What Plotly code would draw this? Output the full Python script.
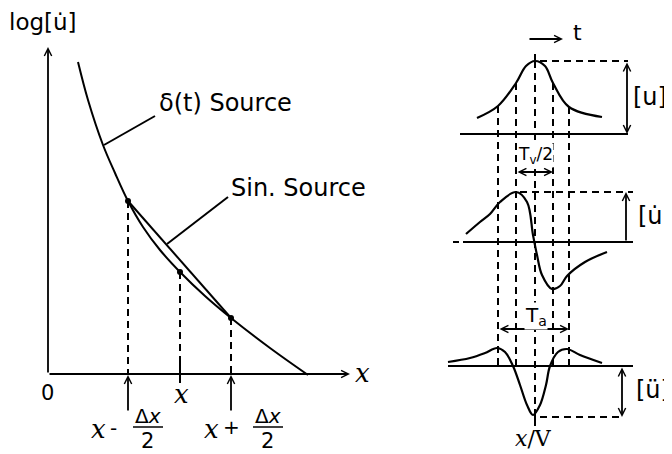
import plotly.graph_objects as go

# Diagram is laid out in the picture's own units (672 x 454, y pointing down)

# ---- left panel: log[u-dot] against distance ----
delta_x = [78, 88, 103, 115, 128, 143, 160, 180, 205, 231, 270, 308]
delta_y = [62, 100, 145, 173, 201, 227, 250, 272, 296, 318, 348, 375]
sin_x = [128, 231]
sin_y = [201, 318]
dot_x = [128, 180, 231]
dot_y = [201, 272, 318]
axis_x = [48, 350]      # x axis runs from origin to arrow tip
axis_y = [374, 47]      # y axis runs from origin up to arrow tip
delta_ptr_x = [104, 155]
delta_ptr_y = [145, 116]
sin_ptr_x = [167, 228]
sin_ptr_y = [244, 197]

# ---- right panel: u, u-dot, u-double-dot against t ----
u_t = [477, 498, 516, 526, 535, 545, 553, 569, 602]
u_v = [118, 106, 83, 66, 61, 66, 83, 107, 117]
ud_t = [466, 480, 490, 500, 516, 527, 533, 537, 542, 552, 560, 567, 585, 607]
ud_v = [234, 222, 214, 202, 192, 202, 235, 255, 275, 289, 286, 276, 262, 252]
udd_t = [448, 470, 485, 497, 505, 513, 520, 527, 533, 540, 546, 550, 558, 567, 580, 602]
udd_v = [362, 358, 353, 348, 352, 366, 385, 405, 415, 405, 385, 366, 352, 349, 355, 363]
base_y = [134, 242, 366]
col_t = [498, 516, 535, 553, 569]          # dashed guide columns
col_top = [106, 83, 61, 83, 107]
col_bot = [366, 366, 415, 366, 366]

fig = go.Figure()


def line(xs, ys, dash="solid", width=2, shape="linear"):
    fig.add_trace(go.Scatter(x=xs, y=ys, mode="lines", line_shape=shape,
                             line=dict(color="black", width=width, dash=dash),
                             hoverinfo="skip", showlegend=False))


def arrow(x0, y0, x1, y1, both=False):
    fig.add_annotation(x=x1, y=y1, ax=x0, ay=y0, xref="x", yref="y",
                       axref="x", ayref="y", text="", showarrow=True,
                       arrowhead=5, arrowsize=0.8, arrowwidth=1.8,
                       startarrowhead=5, startarrowsize=0.8,
                       arrowside="end+start" if both else "end",
                       arrowcolor="black")


def label(x, y, text, size=20, anchor="center", family="DejaVu Sans", bg=None):
    fig.add_annotation(x=x, y=y, text=text, showarrow=False, xanchor=anchor,
                       yanchor="middle", bgcolor=bg, borderpad=0,
                       font=dict(family=family, size=size, color="black"))


DASH = "7px,5px"

# left panel
arrow(axis_x[0], axis_y[0], axis_x[1], axis_y[0])
arrow(axis_x[0], axis_y[0], axis_x[0], axis_y[1])
line(delta_x, delta_y, shape="spline")
line(sin_x, sin_y)
line(delta_ptr_x, delta_ptr_y)
line(sin_ptr_x, sin_ptr_y)
line([dot_x[0], dot_x[0]], [dot_y[0], axis_y[0]], dash=DASH)
line([dot_x[1], dot_x[1]], [dot_y[1], 357], dash=DASH)
line([dot_x[1], dot_x[1]], [357, 383])
line([dot_x[2], dot_x[2]], [dot_y[2], axis_y[0]], dash=DASH)
arrow(dot_x[0], 412, dot_x[0], axis_y[0] + 1)
arrow(dot_x[2], 412, dot_x[2], axis_y[0] + 1)
fig.add_trace(go.Scatter(x=dot_x, y=dot_y, mode="markers",
                         marker=dict(color="black", size=6),
                         hoverinfo="skip", showlegend=False))

label(8, 22, "log[u\u0307]", size=23, anchor="left")
label(158, 103, "δ(t) Source", size=24, anchor="left")
label(230, 188, "Sin. Source", size=24, anchor="left")
label(47, 393, "0", size=21)
label(362, 373, "<i>x</i>", size=26, family="DejaVu Serif")
label(181, 394, "<i>x</i>", size=26, family="DejaVu Serif")
# x - dx/2 and x + dx/2
label(98, 429, "<i>x</i>", size=26, family="DejaVu Serif")
label(113, 428, "-", size=20)
label(148, 416, "Δ<i>x</i>", size=20)
label(147, 441, "2", size=21)
line([133, 163], [427, 427], width=1.5)
label(211, 429, "<i>x</i>", size=26, family="DejaVu Serif")
label(231, 427, "+", size=20)
label(268, 416, "Δ<i>x</i>", size=20)
label(267, 441, "2", size=21)
line([253, 283], [427, 427], width=1.5)

# right panel
for i, t in enumerate(col_t):
    line([t, t], [col_top[i], col_bot[i]], dash=DASH)
line([535, 535], [54, 61])
line([535, 535], [415, 426])

line([460, 628], [base_y[0], base_y[0]])
line([453, 465], [base_y[1], base_y[1]], dash="6px,4px")
line([465, 633], [base_y[1], base_y[1]])
line([448, 633], [base_y[2], base_y[2]])

line(u_t, u_v, width=2.2, shape="spline")
line(ud_t, ud_v, width=2.2, shape="spline")
line(udd_t, udd_v, width=2.2, shape="spline")

line([540, 628], [61, 61], dash=DASH)
line([520, 633], [192, 192], dash=DASH)
line([540, 622], [417, 417], dash=DASH)

arrow(627, 61, 627, 134, both=True)
arrow(626, 242, 626, 192)
arrow(622, 366, 622, 417, both=True)
arrow(516, 172, 553, 172, both=True)
arrow(498, 329, 569, 329, both=True)
arrow(528, 39, 563, 39)

label(577, 32, "t", size=22)
label(632, 97, "[u]", size=24, anchor="left")
label(637, 216, "[u\u0307]", size=24, anchor="left")
label(635, 390, "[ü]", size=24, anchor="left")
label(535, 155, "T<sub>v</sub>/2", size=17, bg="white")
label(536, 316, "T<sub>a</sub>", size=20, bg="white")
label(533, 438, "<i>x</i>/V", size=22, family="DejaVu Serif")

# the page body sits 8px in from the window corner, so the plot area
# starts at page pixel 8 and the ranges are offset to keep picture units
fig.update_xaxes(range=[8, 672], visible=False, fixedrange=True)
fig.update_yaxes(range=[454, 8], visible=False, fixedrange=True)
fig.update_layout(width=664, height=446, margin=dict(l=0, r=0, t=0, b=0),
                  paper_bgcolor="white", plot_bgcolor="white")

fig.write_html("out.html")
